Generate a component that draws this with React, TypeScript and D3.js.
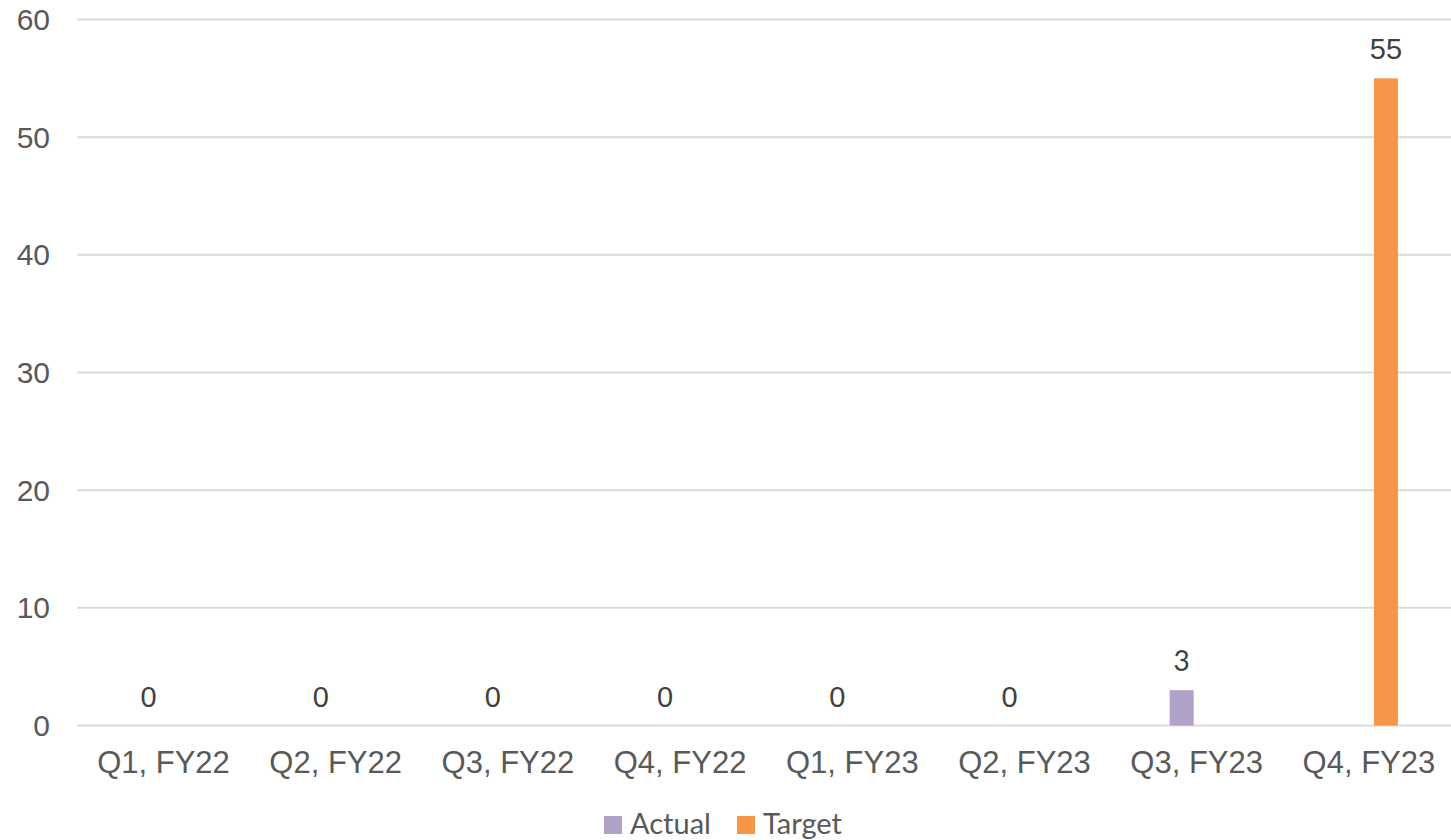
import React, { useEffect, useRef } from "react";
import * as d3 from "d3";

const categories = ["Q1, FY22", "Q2, FY22", "Q3, FY22", "Q4, FY22", "Q1, FY23", "Q2, FY23", "Q3, FY23", "Q4, FY23"];
const actual: (number | null)[] = [0, 0, 0, 0, 0, 0, 3, null];
const target: (number | null)[] = [null, null, null, null, null, null, null, 55];
const yTicks = [0, 10, 20, 30, 40, 50, 60];
const seriesNames = ["Actual", "Target"];
const seriesColors = ["#b1a0c7", "#f79646"];

const W = 1451;
const H = 840;

const App = () => {
  const ref = useRef<SVGSVGElement>(null);

  useEffect(() => {
    const svg = d3.select(ref.current);
    svg.selectAll("*").remove();

    const x = d3.scaleBand().domain(categories).range([77.4, 1455]).padding(0);
    const y = d3.scaleLinear().domain([0, 60]).range([725.5, 19.5]);
    const inner = d3.scaleBand().domain(seriesNames).range([0, 56]).paddingInner(0.25);
    const offset = -27;

    const axisFont = "'Liberation Sans', Arial, sans-serif";
    const calFont = "Lato, 'Open Sans', sans-serif";

    // gridlines
    svg.append("g")
      .selectAll("line")
      .data(yTicks)
      .enter()
      .append("line")
      .attr("x1", 77.4)
      .attr("x2", 1455)
      .attr("y1", d => y(d))
      .attr("y2", d => y(d))
      .attr("stroke", "#d9d9d9")
      .attr("stroke-width", 2);

    // y labels
    svg.append("g")
      .selectAll("text")
      .data(yTicks)
      .enter()
      .append("text")
      .attr("x", 50)
      .attr("y", d => y(d))
      .attr("dy", "0.35em")
      .attr("text-anchor", "end")
      .attr("font-family", axisFont)
      .attr("font-size", 30)
      .attr("fill", "#595959")
      .text(d => d);

    // x labels
    svg.append("g")
      .selectAll("text")
      .data(categories)
      .enter()
      .append("text")
      .attr("x", d => (x(d) as number) + x.bandwidth() / 2)
      .attr("y", 773)
      .attr("text-anchor", "middle")
      .attr("font-family", axisFont)
      .attr("font-size", 31)
      .attr("fill", "#595959")
      .text(d => d);

    const series = [actual, target];
    series.forEach((vals, si) => {
      const name = seriesNames[si];
      const pts = categories
        .map((c, i) => ({ c, v: vals[i] }))
        .filter(d => d.v !== null) as { c: string; v: number }[];
      const bx = (c: string) => (x(c) as number) + x.bandwidth() / 2 + offset + (inner(name) as number);

      svg.append("g")
        .selectAll("rect")
        .data(pts)
        .enter()
        .append("rect")
        .attr("x", d => bx(d.c))
        .attr("y", d => y(d.v))
        .attr("width", inner.bandwidth())
        .attr("height", d => y(0) - y(d.v))
        .attr("fill", seriesColors[si]);

      svg.append("g")
        .selectAll("text")
        .data(pts)
        .enter()
        .append("text")
        .attr("x", d => bx(d.c) + inner.bandwidth() / 2)
        .attr("y", d => y(d.v) - 19)
        .attr("text-anchor", "middle")
        .attr("font-family", d => (d.v === 3 ? calFont : axisFont))
        .attr("font-size", d => (d.v === 3 ? 28 : 29))
        .attr("fill", "#404040")
        .text(d => d.v);
    });

    // legend
    const legendX = [604, 737];
    const lg = svg.append("g");
    seriesNames.forEach((n, i) => {
      lg.append("rect")
        .attr("x", legendX[i])
        .attr("y", 816)
        .attr("width", 18)
        .attr("height", 18)
        .attr("fill", seriesColors[i]);
      lg.append("text")
        .attr("x", legendX[i] + 26)
        .attr("y", 834)
        .attr("font-family", calFont)
        .attr("font-size", 29)
        .attr("fill", "#595959")
        .text(n);
    });
  }, []);

  return (
    <svg
      ref={ref}
      width={W}
      height={H}
      style={{ position: "absolute", left: 0, top: 0, display: "block", background: "#fff" }}
    ></svg>
  );
};

export default App;
